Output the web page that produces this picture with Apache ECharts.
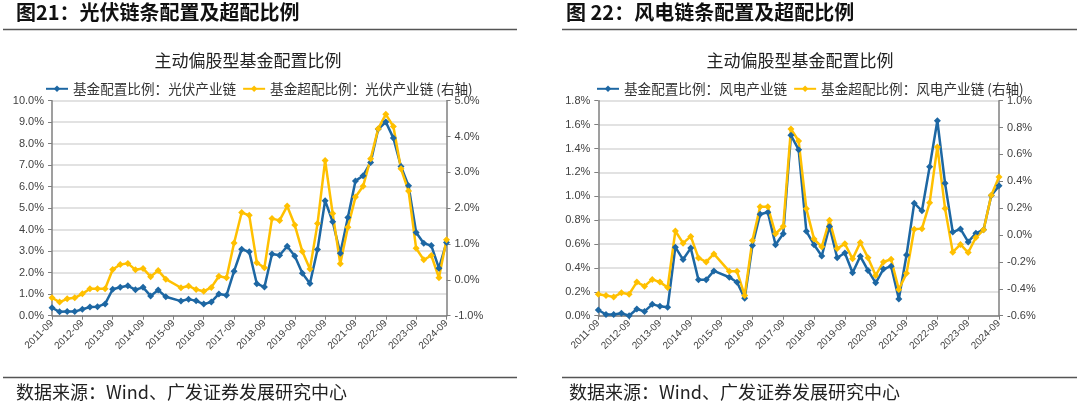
<!DOCTYPE html>
<html><head><meta charset="utf-8">
<script src="https://cdn.jsdelivr.net/npm/echarts@6/dist/echarts.min.js"></script>
<style>html,body{margin:0;padding:0;background:#fff}#c{width:1080px;height:406px}</style>
</head><body><div id="c"></div>
<script>
const quarters = [
'2011-09','2011-12','2012-03','2012-06','2012-09','2012-12','2013-03','2013-06',
'2013-09','2013-12','2014-03','2014-06','2014-09','2014-12','2015-03','2015-06',
'2015-09','2015-12','2016-03','2016-06','2016-09','2016-12','2017-03','2017-06',
'2017-09','2017-12','2018-03','2018-06','2018-09','2018-12','2019-03','2019-06',
'2019-09','2019-12','2020-03','2020-06','2020-09','2020-12','2021-03','2021-06',
'2021-09','2021-12','2022-03','2022-06','2022-09','2022-12','2023-03','2023-06',
'2023-09','2023-12','2024-03','2024-06','2024-09'];

// 光伏 (left panel)
const pvAlloc = [0.37,0.18,0.2,0.19,0.3,0.4,0.42,0.55,1.23,1.32,1.39,1.21,1.32,0.92,1.19,0.88,
  null,0.68,0.77,0.69,0.54,0.64,1.01,0.95,2.07,3.09,2.97,1.49,1.33,2.87,2.81,3.23,2.78,1.97,1.5,3.08,
  5.35,4.37,2.9,4.57,6.27,6.51,7.13,8.68,9.01,8.26,6.94,6.04,3.87,3.37,3.26,2.21,3.4];
const pvOver = [-0.5,-0.62,-0.53,-0.5,-0.39,-0.25,-0.25,-0.25,0.29,0.43,0.46,0.28,0.32,0.09,0.26,0.02,
  null,-0.22,-0.17,-0.27,-0.32,-0.21,0.1,0.06,1.03,1.88,1.8,0.48,0.34,1.71,1.66,2.06,1.53,0.79,0.3,1.57,
  3.33,1.85,0.45,1.47,2.31,2.61,3.38,4.22,4.62,4.28,3.1,2.48,0.88,0.56,0.68,0.06,1.12];

// 风电 (right panel)
const windAlloc = [0.048,0.01,0.01,0.02,0.0,0.056,0.036,0.095,0.08,0.07,0.574,0.47,0.566,0.30,0.30,0.375,
  null,0.322,0.28,0.146,0.588,0.85,0.866,0.594,0.686,1.51,1.39,0.706,0.594,0.50,0.747,0.485,0.525,0.36,0.497,0.379,
  0.275,0.39,0.415,0.14,0.508,0.942,0.878,1.247,1.632,1.108,0.70,0.726,0.618,0.69,0.72,1.006,1.087];
const windOver = [-0.44,-0.45,-0.46,-0.43,-0.44,-0.35,-0.38,-0.33,-0.35,-0.39,0.03,-0.06,-0.01,-0.17,-0.20,-0.14,
  null,-0.27,-0.27,-0.45,-0.04,0.21,0.21,0.01,0.065,0.79,0.70,0.195,-0.03,-0.087,0.11,-0.10,-0.065,-0.177,-0.055,-0.168,
  -0.30,-0.20,-0.18,-0.405,-0.285,0.043,0.048,0.24,0.656,0.197,-0.127,-0.07,-0.13,-0.018,0.039,0.297,0.432];

const pvNames = ['基金配置比例：光伏产业链','基金超配比例：光伏产业链 (右轴)'];
const windNames = ['基金配置比例：风电产业链','基金超配比例：风电产业链 (右轴)'];

const BLUE = '#1d67a3', GOLD = '#ffc000';
const NUM_FONT = '"Liberation Sans", Arial, sans-serif';
const CJK_FONT = '"Noto Sans CJK SC", sans-serif';
const axisColor = '#7f7f7f';
const fmt = v => v.toFixed(1) + '%';

function xAx(gi){
  return {type:'category', gridIndex:gi, data:quarters, boundaryGap:false,
    axisLine:{lineStyle:{color:axisColor,width:1.5}},
    axisTick:{interval:3, length:4, lineStyle:{color:axisColor,width:1}},
    axisLabel:{interval:3, rotate:45, fontSize:10, color:'#404040', fontFamily:NUM_FONT, margin:6},
    splitLine:{show:false}};
}
function yAx(gi, min, max, step, pos, grid){
  return {type:'value', gridIndex:gi, min:min, max:max, interval:step, position:pos,
    axisLine:{show:true, lineStyle:{color:axisColor,width:1.5}},
    axisTick:{show:true, length:4, lineStyle:{color:axisColor}},
    axisLabel:{formatter:fmt, fontSize:11, color:'#404040', fontFamily:NUM_FONT, margin:8},
    splitLine:{show:grid, lineStyle:{color:'#d9d9d9', width:1.5}}};
}
function ser(name, data, color, xi, yi){
  return {name:name, type:'line', data:data, xAxisIndex:xi, yAxisIndex:yi, connectNulls:true,
    symbol:'diamond', symbolSize:7, showAllSymbol:true,
    itemStyle:{color:color}, lineStyle:{color:color, width:2.5}, animation:false};
}

const chart = echarts.init(document.getElementById('c'));
chart.setOption({
  animation:false,
  grid:[
    {left:52, top:100.7, width:394.5, height:215, containLabel:false},
    {left:598.3, top:100.7, width:400.7, height:215, containLabel:false}
  ],
  xAxis:[xAx(0), xAx(1)],
  yAxis:[
    yAx(0, 0, 10, 1, 'left', true),
    yAx(0, -1, 5, 1, 'right', false),
    yAx(1, 0, 1.8, 0.2, 'left', true),
    yAx(1, -0.6, 1.0, 0.2, 'right', false)
  ],
  legend:[
    {data:pvNames, left:40, top:80, padding:[2,5,2,5], itemWidth:22, itemHeight:8, itemGap:6,
      textStyle:{fontSize:13.6, color:'#333', fontFamily:CJK_FONT}},
    {data:windNames, left:591, top:80, padding:[2,5,2,5], itemWidth:22, itemHeight:8, itemGap:6,
      textStyle:{fontSize:13.6, color:'#333', fontFamily:CJK_FONT}}
  ],
  series:[
    ser(pvNames[0], pvAlloc, BLUE, 0, 0),
    ser(pvNames[1], pvOver, GOLD, 0, 1),
    ser(windNames[0], windAlloc, BLUE, 1, 2),
    ser(windNames[1], windOver, GOLD, 1, 3)
  ],
  graphic:[
    {type:'text', style:{text:'图21：光伏链条配置及超配比例', x:16, y:12, verticalAlign:'middle', textVerticalAlign:'middle', font:'bold 20px "Noto Sans CJK SC"', fill:'#111'}},
    {type:'text', style:{text:'图 22：风电链条配置及超配比例', x:566, y:12, verticalAlign:'middle', textVerticalAlign:'middle', font:'bold 20px "Noto Sans CJK SC"', fill:'#111'}},
    {type:'line', shape:{x1:3, y1:29.5, x2:517, y2:29.5}, style:{stroke:'#555', lineWidth:1.5}},
    {type:'line', shape:{x1:562, y1:29.5, x2:1077, y2:29.5}, style:{stroke:'#555', lineWidth:1.5}},
    {type:'text', style:{text:'主动偏股型基金配置比例', x:248, y:61, align:'center', textAlign:'center', verticalAlign:'middle', textVerticalAlign:'middle', font:'17px "Noto Sans CJK SC"', fill:'#222'}},
    {type:'text', style:{text:'主动偏股型基金配置比例', x:800, y:61, align:'center', textAlign:'center', verticalAlign:'middle', textVerticalAlign:'middle', font:'17px "Noto Sans CJK SC"', fill:'#222'}},
    {type:'line', shape:{x1:3, y1:377.5, x2:517, y2:377.5}, style:{stroke:'#555', lineWidth:1.5}},
    {type:'line', shape:{x1:562, y1:377.5, x2:1077, y2:377.5}, style:{stroke:'#555', lineWidth:1.5}},
    {type:'text', style:{text:'数据来源：Wind、广发证券发展研究中心', x:16, y:392, verticalAlign:'middle', textVerticalAlign:'middle', font:'18px "Noto Sans CJK SC"', fill:'#222'}},
    {type:'text', style:{text:'数据来源：Wind、广发证券发展研究中心', x:569, y:392, verticalAlign:'middle', textVerticalAlign:'middle', font:'18px "Noto Sans CJK SC"', fill:'#222'}}
  ]
});
</script></body></html>
